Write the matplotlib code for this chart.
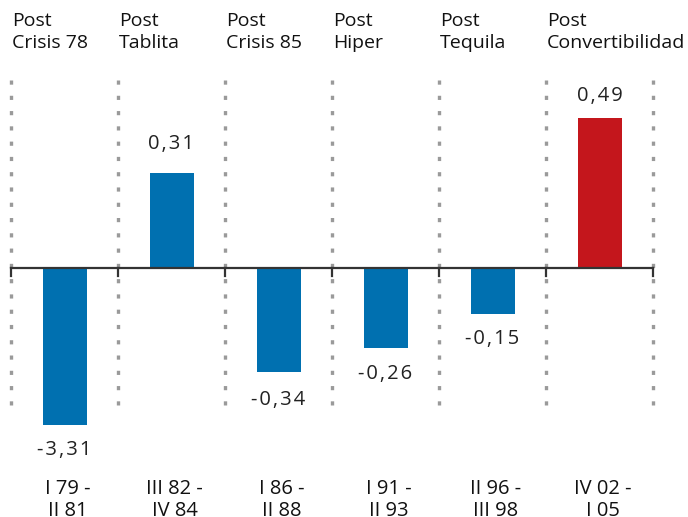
import matplotlib
matplotlib.use("Agg")
import matplotlib.pyplot as plt
import numpy as np

plt.rcParams['font.family'] = ['Open Sans', 'DejaVu Sans']
plt.rcParams['lines.scale_dashes'] = False

titles = ["Post\nCrisis 78", "Post\nTablita", "Post\nCrisis 85", "Post\nHiper",
          "Post\nTequila", "Post\nConvertibilidad"]
periods = ["I 79 -\nII 81", "III 82 -\nIV 84", "I 86 -\nII 88", "I 91 -\nII 93",
           "II 96 -\nIII 98", "IV 02 -\nI 05"]
values = [-3.31, 0.31, -0.34, -0.26, -0.15, 0.49]
value_labels = ["-3,31", "0,31", "-0,34", "-0,26", "-0,15", "0,49"]
colors = ["#0070b0", "#0070b0", "#0070b0", "#0070b0", "#0070b0", "#c4161c"]
label_offsets_px = [25, 29, 28, 26, 25, 22]

W, H = 688, 517
fig = plt.figure(figsize=(W / 100, H / 100), dpi=100)
ax = fig.add_axes([0, 0, 1, 1])
ax.set_axis_off()

px_x, x0 = 107.0, 11.0
px_y, y0 = 306.0, 268.0
ax.set_xlim(-x0 / px_x, (W - x0) / px_x)
ax.set_ylim(-(H - y0) / px_y, y0 / px_y)

n = len(values)
# display length clipped (axis break for the outlier)
shown = np.clip(values, -0.513, None)
centers = np.arange(n) + 0.5
ax.bar(centers, shown, width=44 / px_x, color=colors, zorder=3)

# dotted separators
ytop, ybot = (y0 - 80) / px_y, (y0 - 416) / px_y
for s in range(n + 1):
    ax.plot([s, s], [ytop, ybot], color="#9a9a9a", lw=2.4,
            dashes=[3.0, 8.0], solid_capstyle='butt', dash_capstyle='butt', zorder=1)
    ax.plot([s, s], [0, -8 / px_y], color="#333333", lw=1.6, zorder=4)

ax.plot([0, n], [0, 0], color="#333333", lw=1.6, zorder=4)

def spaced(t):
    return "\u200a".join(t)

for c, v, lab, off in zip(centers, shown, value_labels, label_offsets_px):
    dy = -off if v < 0 else off
    ax.annotate(spaced(lab), (c, v), xytext=(0, dy * 0.72),
                textcoords='offset points', ha='center', va='center',
                fontsize=14.5, color="#222222")

for s, t in enumerate(titles):
    ax.text(s + 1 / px_x, (y0 - 12) / px_y, t, ha='left', va='top',
            fontsize=14, color="#111111", linespacing=1.3)

for c, p in zip(centers, periods):
    ax.text(c + 3 / px_x, (y0 - 479) / px_y, p, ha='center', va='top',
            fontsize=14.5, color="#111111", linespacing=1.15)

fig.savefig("out.png", dpi=100)
